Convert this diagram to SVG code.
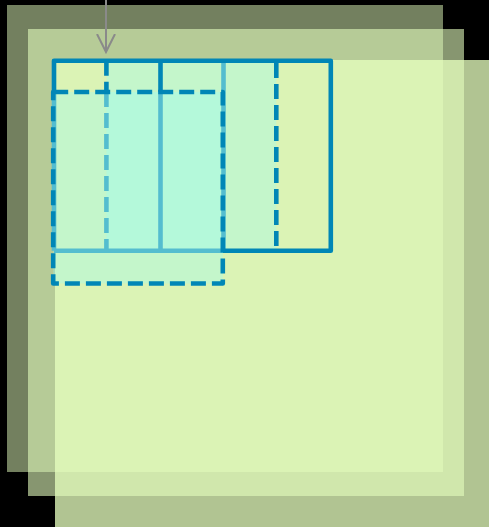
<svg xmlns="http://www.w3.org/2000/svg" width="489" height="527" viewBox="0 0 489 527">
  <style>
    .sheet { fill: #e6ffbe; }
    .zone { fill: #8fffff; fill-opacity: 0.3; stroke: none; }
    .dark { stroke: #0086b6; stroke-width: 4.6; fill: none; stroke-linejoin: round; }
    .light { stroke: #54bdcf; stroke-width: 4.6; fill: none; }
    .dash { stroke-dasharray: 15 6; }
    .arrow { stroke: #8a8a8a; stroke-width: 2; fill: none; }
  </style>
  <defs>
    <marker id="vhead" markerWidth="20" markerHeight="20" refX="18" refY="10" orient="auto" markerUnits="userSpaceOnUse" viewBox="0 0 20 20">
      <path d="M0,1 L18,10 L0,19" fill="none" stroke="#8a8a8a" stroke-width="2"/>
    </marker>
  </defs>
  <rect x="0" y="0" width="489" height="527" fill="#000000"/>

  <g id="sheet-back">
    <rect class="sheet" x="7" y="5" width="436" height="467" opacity="0.5"/>
  </g>
  <g id="sheet-middle">
    <rect class="sheet" x="28" y="29" width="436" height="467" opacity="0.59"/>
  </g>
  <g id="sheet-front">
    <rect class="sheet" x="55" y="60" width="440" height="470" opacity="0.77"/>
  </g>

  <g id="item-original">
    <rect class="zone" x="106.5" y="60.8" width="169.8" height="190"/>
  </g>
  <g id="item-shifted">
    <rect class="zone" x="53.2" y="92" width="169.6" height="191.5"/>
  </g>

  <g id="grid-lines-covered">
    <line class="light" x1="54" y1="92" x2="54" y2="250.8"/>
    <line class="light dash" x1="106.4" y1="92" x2="106.4" y2="250.8"/>
    <line class="light" x1="160.5" y1="92" x2="160.5" y2="250.8"/>
    <line class="light" x1="223.5" y1="60.8" x2="223.5" y2="250.8"/>
    <line class="light" x1="54" y1="250.8" x2="223" y2="250.8"/>
  </g>

  <g id="grid-container">
    <path class="dark" d="M54,92 L54,60.8 L330.8,60.8 L330.8,250.8 L223,250.8"/>
    <line class="dark" x1="160.5" y1="60.8" x2="160.5" y2="92"/>
  </g>

  <g id="item-original-outline">
    <line class="dark dash" x1="106.4" y1="60.8" x2="106.4" y2="92"/>
    <line class="dark dash" x1="276.3" y1="63" x2="276.3" y2="250.8"/>
  </g>

  <g id="item-shifted-outline">
    <rect class="dark dash" x="53.2" y="92" width="169.6" height="191.5"/>
  </g>

  <g id="connectors">
    <line class="arrow" x1="106" y1="0" x2="106" y2="52" marker-end="url(#vhead)"/>
  </g>
</svg>
